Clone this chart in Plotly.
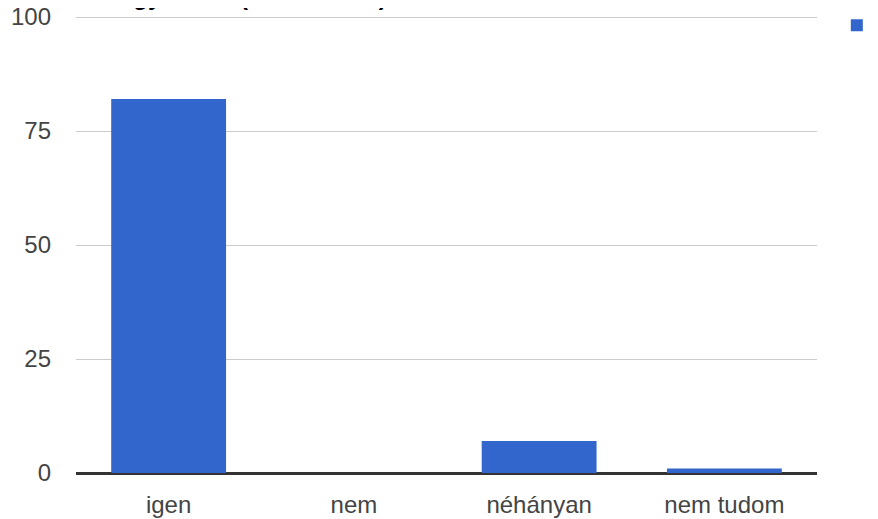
import plotly.graph_objects as go

categories = ["igen", "nem", "néhányan", "nem tudom"]
values = [82, 0, 7, 1]
y_ticks = [0, 25, 50, 75, 100]
series_name = "Válaszok"
title_text = "Magyarként (több válasz)"

fig = go.Figure()
fig.add_trace(go.Bar(
    x=categories, y=values, name=series_name,
    marker=dict(color="#3366CC", line=dict(width=0)),
    showlegend=True,
))

fig.update_layout(
    width=870, height=511,
    margin=dict(l=68, r=61, t=7, b=46, autoexpand=False),
    paper_bgcolor="white", plot_bgcolor="white",
    bargap=0.38,
    font=dict(family="Liberation Sans, Arial, sans-serif", size=24, color="#444444"),
    xaxis=dict(
        showgrid=False, showline=True, linecolor="#333333", linewidth=1.5,
        ticks="", ticklabelstandoff=9, tickfont=dict(size=24, color="#444444"),
        automargin=False,
    ),
    yaxis=dict(
        range=[0, 100.44], tickvals=y_ticks, showgrid=True, gridcolor="#cccccc",
        gridwidth=1, zeroline=True, zerolinecolor="#333333", zerolinewidth=1.5,
        ticks="", ticklabelstandoff=24, tickfont=dict(size=24, color="#444444"),
        ticklabeloverflow="allow", automargin=False,
    ),
    legend=dict(
        x=1.020, y=1.026, xanchor="left", yanchor="top",
        font=dict(size=24, color="#222222"), itemwidth=40,
        bgcolor="rgba(0,0,0,0)",
    ),
    annotations=[dict(
        text="<b>" + title_text + "</b>", xref="paper", yref="paper",
        x=0.030, y=1.0, xanchor="left", yanchor="bottom", yshift=3,
        showarrow=False, font=dict(size=24, color="#000000"),
    )],
)

fig.write_html("out.html")
